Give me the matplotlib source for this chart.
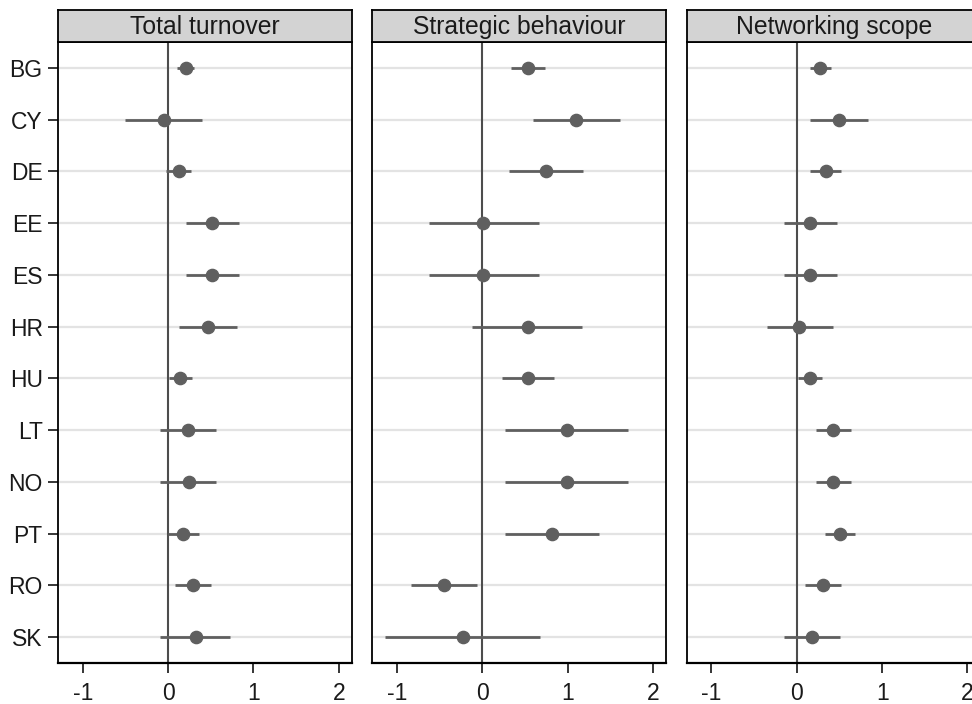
import matplotlib
matplotlib.use("Agg")
import matplotlib.pyplot as plt
import numpy as np

plt.rcParams['font.family'] = ['Liberation Sans', 'DejaVu Sans']

countries = ["BG", "CY", "DE", "EE", "ES", "HR", "HU", "LT", "NO", "PT", "RO", "SK"]
panels = ["Total turnover", "Strategic behaviour", "Networking scope"]

est_turnover = [0.21, -0.05, 0.125, 0.52, 0.52, 0.47, 0.14, 0.23, 0.24, 0.18, 0.29, 0.33]
lo_turnover = [0.10, -0.50, -0.03, 0.21, 0.21, 0.13, 0.01, -0.09, -0.09, 0.00, 0.08, -0.09]
hi_turnover = [0.30, 0.40, 0.27, 0.83, 0.83, 0.81, 0.28, 0.56, 0.56, 0.36, 0.50, 0.73]

est_strategic = [0.54, 1.10, 0.75, 0.01, 0.01, 0.53, 0.54, 0.99, 0.99, 0.82, -0.45, -0.23]
lo_strategic = [0.34, 0.59, 0.31, -0.63, -0.63, -0.12, 0.23, 0.27, 0.27, 0.27, -0.84, -1.14]
hi_strategic = [0.73, 1.61, 1.18, 0.66, 0.66, 1.17, 0.84, 1.71, 1.71, 1.37, -0.06, 0.68]

est_network = [0.27, 0.50, 0.34, 0.16, 0.16, 0.03, 0.16, 0.43, 0.43, 0.51, 0.31, 0.18]
lo_network = [0.15, 0.16, 0.16, -0.15, -0.15, -0.35, 0.02, 0.22, 0.22, 0.33, 0.10, -0.15]
hi_network = [0.40, 0.84, 0.52, 0.47, 0.47, 0.42, 0.29, 0.64, 0.64, 0.68, 0.52, 0.51]

data = [
    (est_turnover, lo_turnover, hi_turnover),
    (est_strategic, lo_strategic, hi_strategic),
    (est_network, lo_network, hi_network),
]

W, H = 972, 704
fig = plt.figure(figsize=(W / 100, H / 100), dpi=100)

lefts = [58, 372.3, 686.7]
pw = 294.0
ax_top, ax_bot = 42.0, 663.0
strip_top = 9.5

ypos = np.arange(len(countries), 0, -1)
mark_col = "#5f5f5f"

for i, (title, (est, lo, hi)) in enumerate(zip(panels, data)):
    ax = fig.add_axes([lefts[i] / W, (H - ax_bot) / H, pw / W, (ax_bot - ax_top) / H])
    ax.set_xlim(-1.29, 2.155)
    ax.set_ylim(0.5, len(countries) + 0.5)
    for y in ypos:
        ax.axhline(y, color="#e3e3e3", lw=1.6, zorder=0)
    ax.axvline(0, color="#4d4d4d", lw=1.5, zorder=1)
    ax.hlines(ypos, lo, hi, color=mark_col, lw=2.0, zorder=2)
    ax.plot(est, ypos, "o", color=mark_col, ms=8.8, mec=mark_col, zorder=3)
    ax.set_xticks([-1, 0, 1, 2])
    ax.set_xticklabels(["-1", "0", "1", "2"])
    ax.set_yticks(ypos)
    if i == 0:
        ax.set_yticklabels(countries)
        ax.tick_params(axis="y", length=7, width=1.1, color="black", labelsize=16.5,
                       labelcolor="#1a1a1a", pad=4)
    else:
        ax.set_yticklabels([])
        ax.tick_params(axis="y", length=0)
    ax.tick_params(axis="x", length=7, width=1.1, color="black", labelsize=16.5,
                   labelcolor="#1a1a1a", pad=6.5)
    for s in ax.spines.values():
        s.set_color("black")
        s.set_linewidth(1.3)
    ax.spines["bottom"].set_linewidth(1.6)

    sax = fig.add_axes([lefts[i] / W, (H - ax_top) / H, pw / W, (ax_top - strip_top) / H])
    sax.set_facecolor("#d3d3d3")
    sax.set_xticks([])
    sax.set_yticks([])
    for s in sax.spines.values():
        s.set_color("black")
        s.set_linewidth(1.3)
    sax.text(0.5, 0.47, title, ha="center", va="center", fontsize=17.8, color="#1a1a1a",
             transform=sax.transAxes)

fig.savefig("out.png", dpi=100)
